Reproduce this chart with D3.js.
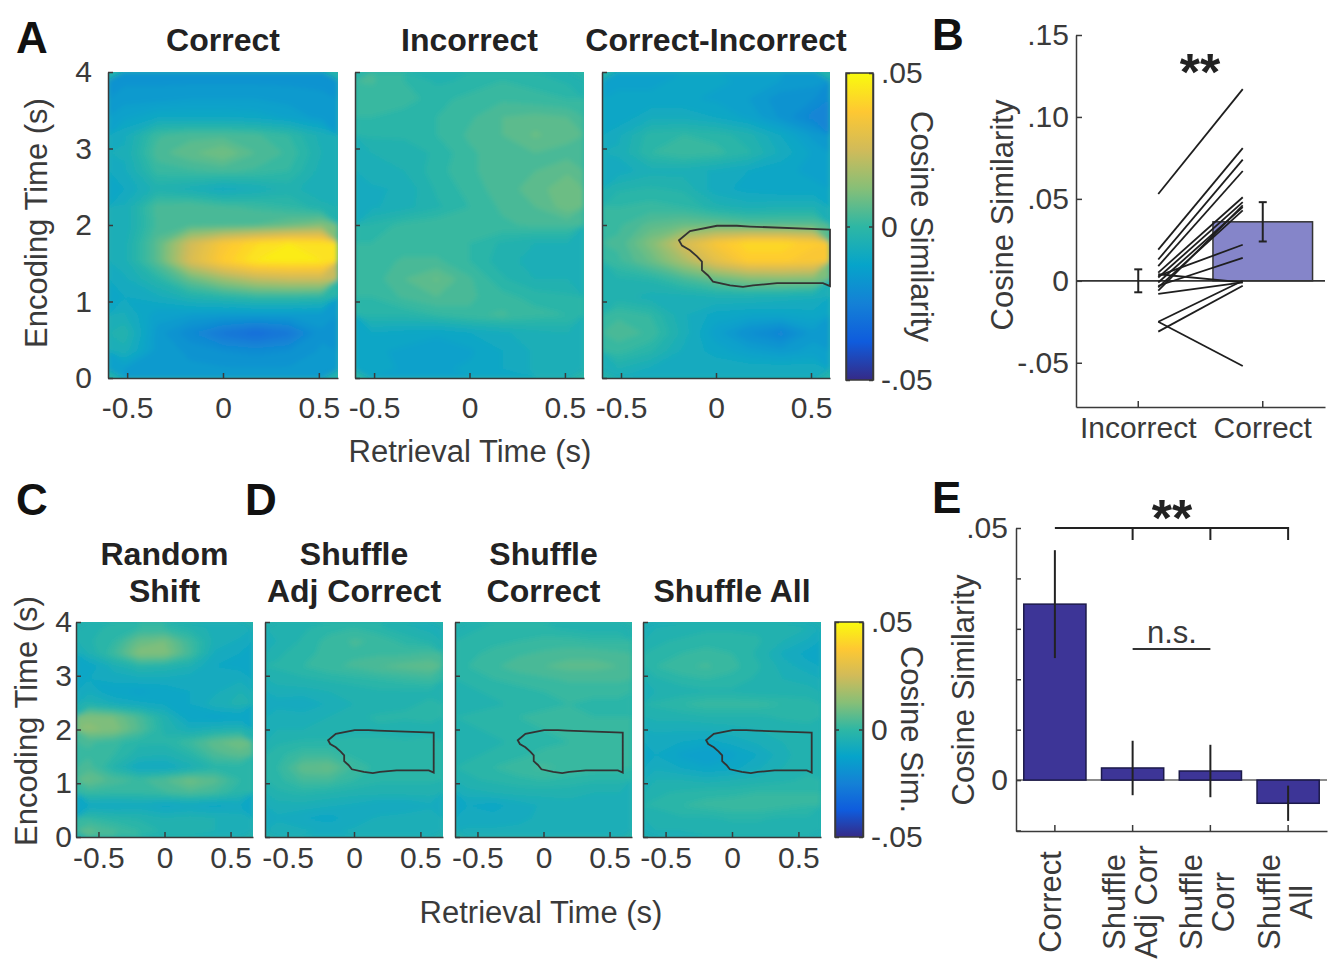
<!DOCTYPE html>
<html>
<head>
<meta charset="utf-8">
<script src="https://cdn.jsdelivr.net/npm/d3@7"></script>
<style>
  body { margin: 0; background: #fff; }
  text { font-family: "Liberation Sans", Arial, sans-serif; }
</style>
</head>
<body>
<svg id="fig" width="1340" height="962"></svg>
<script>
//===============================================//
// Data
// heatmap grids: rows go from encoding 4 s (top) down to 0 s (bottom), 0.25 s apart,
// columns go left->right across retrieval time. values are cosine similarity x 100
const correctGrid = [
  [-1.8,-1.8,-1.8,-1.8,-1.8,-1.8,-1.8],
  [-1.6,-1.6,-1.5,-1.5,-1.5,-1.6,-1.7],
  [-1.3,-1.0,-1.0,-1.0,-1.1,-1.3,-1.6],
  [-0.8, 0.2, 0.4, 0.4, 0.3, 0.0,-0.6],
  [-0.7, 0.4, 0.7, 1.0, 0.5, 0.2,-0.5],
  [-0.8, 0.1, 0.2, 0.3, 0.2, 0.0,-0.6],
  [-1.0,-0.4,-0.6,-0.9,-0.7,-0.4,-0.7],
  [-0.7, 0.4, 0.5, 0.3, 0.2, 0.0,-0.4],
  [-0.7, 0.3, 0.4, 0.4, 0.5, 0.8, 1.2],
  [-0.6, 0.6, 2.5, 3.6, 4.2, 4.5, 4.3],
  [-0.6, 0.6, 2.7, 3.8, 4.5, 4.6, 4.5],
  [-0.8,-0.2, 0.8, 1.6, 2.2, 2.4, 2.4],
  [-1.0,-0.8,-0.4,-0.2, 0.0, 0.0,-0.1],
  [-0.7,-1.4,-1.5,-1.6,-1.6,-1.6,-1.6],
  [-0.3,-1.6,-2.2,-2.8,-3.2,-2.8,-1.8],
  [-0.6,-1.6,-1.8,-2.0,-2.1,-2.0,-1.7],
  [-1.5,-1.7,-1.7,-1.7,-1.7,-1.7,-1.7]
];
const incorrectGrid = [
  [ 0.3, 0.0,-0.3,-0.2, 0.0,-0.1,-0.3],
  [ 0.1, 0.1,-0.1, 0.1, 0.2, 0.1, 0.0],
  [ 0.0,-0.1, 0.0, 0.2, 0.5, 0.6, 0.5],
  [-0.2,-0.2, 0.0, 0.3, 0.5, 0.8, 0.6],
  [-0.5,-0.4,-0.2, 0.2, 0.4, 0.5, 0.4],
  [-0.6,-0.5,-0.1, 0.2, 0.4, 0.5, 0.7],
  [-0.8,-0.7,-0.2, 0.1, 0.4, 0.6, 1.0],
  [-0.8,-0.6,-0.3, 0.0, 0.3, 0.5, 0.9],
  [-0.2, 0.1, 0.2, 0.1, 0.2, 0.3, 0.3],
  [ 0.0, 0.1, 0.1, 0.0,-0.3,-0.5,-0.5],
  [ 0.1, 0.3, 0.3, 0.0,-0.4,-0.6,-0.6],
  [ 0.1, 0.5, 0.8, 0.3,-0.2,-0.5,-0.5],
  [ 0.0, 0.3, 0.5, 0.3, 0.1,-0.1,-0.2],
  [-0.2,-0.2, 0.0, 0.2, 0.3, 0.1, 0.0],
  [-1.0,-1.1,-1.2,-1.0,-0.8,-0.6,-0.5],
  [-1.2,-1.3,-1.4,-1.3,-1.0,-0.7,-0.5],
  [-1.1,-1.3,-1.3,-1.2,-1.0,-0.7,-0.6]
];
const diffGrid = [
  [-1.3,-1.3,-1.2,-1.2,-1.3,-1.5,-1.6],
  [-1.2,-1.2,-1.2,-1.3,-1.5,-1.9,-2.0],
  [-1.2,-0.8,-0.8,-1.0,-1.3,-1.8,-2.4],
  [-0.8,-0.1, 0.0,-0.1,-0.4,-1.0,-1.6],
  [-0.7, 0.0, 0.2, 0.1,-0.2,-0.8,-1.3],
  [-0.9,-0.6,-0.6,-0.8,-1.0,-1.2,-1.3],
  [-0.3,-0.2,-0.3,-0.9,-1.1,-1.2,-1.2],
  [ 0.0, 0.1, 0.0,-0.4,-0.6,-0.5,-0.5],
  [ 0.2, 0.6, 0.8, 0.8, 0.6, 0.6, 0.6],
  [ 0.3, 1.2, 2.6, 3.6, 4.2, 4.2, 3.8],
  [ 0.2, 0.8, 1.8, 3.0, 3.8, 3.8, 3.6],
  [-0.3,-0.2, 0.3, 0.8, 1.2, 1.3, 1.2],
  [-0.4,-0.6,-0.6,-0.5,-0.5,-0.6,-0.7],
  [ 0.2, 0.0,-0.7,-1.1,-1.2,-1.2,-1.1],
  [ 0.4, 0.2,-0.6,-1.4,-2.0,-2.4,-1.6],
  [ 0.1,-0.2,-0.8,-1.1,-1.4,-1.6,-1.4],
  [-0.5,-0.8,-0.8,-0.8,-0.8,-0.8,-0.8]
];
const randomShiftGrid = [
  [-0.3,-0.2, 0.0, 0.0,-0.3,-0.6,-0.6],
  [-0.3, 0.0, 0.8, 1.0, 0.2,-0.6,-0.8],
  [-0.5, 0.2, 1.2, 1.2, 0.3,-0.8,-1.0],
  [-1.2,-0.6,-0.2,-0.3,-0.5,-1.0,-1.1],
  [-1.0,-0.9,-0.8,-0.8,-0.9,-0.9,-0.8],
  [-0.8,-1.2,-1.3,-1.2,-1.0,-0.8,-0.5],
  [-0.4,-0.7,-0.9,-1.0,-1.0,-0.6,-0.4],
  [ 1.2, 1.0, 0.4,-0.4,-1.2,-1.3,-1.2],
  [ 1.3, 1.2, 0.5,-0.3,-0.7,-0.5,-0.4],
  [ 0.3, 0.1,-0.2,-0.2, 0.2, 0.7, 1.0],
  [ 0.2, 0.0,-0.4,-0.5,-0.2, 0.4, 0.6],
  [ 0.4,-0.3,-1.0,-1.0,-0.6,-0.2,-0.2],
  [ 0.8, 0.4, 0.2, 0.5, 0.9, 0.6, 0.0],
  [ 0.1, 0.0, 0.0, 0.2, 0.4, 0.2,-0.2],
  [-1.0,-1.0,-0.9,-1.1,-1.0,-1.1,-1.0],
  [ 0.0,-0.2,-0.3,-0.5,-0.4,-0.5,-0.6],
  [ 0.6, 0.3, 0.0,-0.3,-0.4,-0.5,-0.5]
];
const shuffleAdjGrid = [
  [-0.4,-0.3,-0.1, 0.0,-0.2,-0.4,-0.6],
  [-0.5,-0.2, 0.1, 0.3, 0.2,-0.1,-0.3],
  [-0.3,-0.1, 0.1, 0.2, 0.2, 0.2, 0.3],
  [-0.2, 0.0, 0.2, 0.3, 0.5, 0.6, 0.7],
  [-0.4,-0.3,-0.2,-0.1, 0.0, 0.1, 0.2],
  [-0.6,-0.6,-0.5,-0.4,-0.3,-0.3,-0.3],
  [-0.9,-1.0,-0.7,-0.5,-0.4,-0.3,-0.2],
  [-0.5,-0.6,-0.5,-0.3,-0.2,-0.2,-0.2],
  [-0.5,-0.5,-0.4,-0.3,-0.3,-0.4,-0.3],
  [-0.3,-0.2,-0.2,-0.2,-0.2,-0.2,-0.2],
  [-0.1, 0.2, 0.2,-0.1,-0.1,-0.1,-0.1],
  [ 0.0, 0.7, 0.8, 0.2,-0.1, 0.0, 0.0],
  [-0.1, 0.3, 0.3, 0.0,-0.2,-0.2,-0.2],
  [-0.3,-0.2,-0.3,-0.4,-0.4,-0.4,-0.4],
  [-0.6,-0.6,-0.7,-0.8,-1.0,-1.0,-0.8],
  [-0.8,-1.0,-1.1,-0.9,-0.7,-0.6,-0.6],
  [-0.6,-0.7,-0.8,-0.7,-0.6,-0.5,-0.5]
];
const shuffleCorrGrid = [
  [-0.3,-0.2,-0.2,-0.2,-0.3,-0.4,-0.4],
  [-0.2,-0.1, 0.0, 0.1, 0.1, 0.0, 0.0],
  [-0.1, 0.1, 0.2, 0.3, 0.4, 0.4, 0.3],
  [ 0.0, 0.2, 0.4, 0.5, 0.6, 0.6, 0.5],
  [-0.2, 0.0, 0.1, 0.2, 0.3, 0.3, 0.3],
  [-0.3,-0.2,-0.1, 0.0, 0.1, 0.1, 0.1],
  [-0.4,-0.3,-0.2,-0.1, 0.0,-0.1,-0.1],
  [-0.2,-0.1, 0.0, 0.1, 0.1, 0.0, 0.0],
  [-0.3,-0.2,-0.1, 0.0, 0.1, 0.1, 0.1],
  [-0.4,-0.3,-0.2,-0.1, 0.0, 0.0, 0.0],
  [-0.3,-0.2,-0.1, 0.1, 0.2, 0.2, 0.1],
  [-0.2, 0.0, 0.2, 0.3, 0.2, 0.1, 0.1],
  [-0.3,-0.2,-0.1, 0.0,-0.1,-0.2,-0.2],
  [-0.6,-0.5,-0.4,-0.4,-0.4,-0.5,-0.5],
  [-1.0,-1.1,-0.9,-0.7,-0.6,-0.6,-0.6],
  [-0.9,-0.9,-0.8,-0.7,-0.6,-0.6,-0.6],
  [-0.7,-0.7,-0.7,-0.6,-0.6,-0.5,-0.5]
];
const shuffleAllGrid = [
  [-0.5,-0.4,-0.3,-0.3,-0.3,-0.4,-0.5],
  [-0.3,-0.2,-0.1,-0.1,-0.2,-0.5,-0.8],
  [-0.2, 0.0, 0.1, 0.0,-0.3,-0.8,-1.1],
  [ 0.0, 0.2, 0.3, 0.1,-0.2,-0.6,-0.9],
  [-0.3,-0.1, 0.0,-0.1,-0.3,-0.5,-0.6],
  [-0.5,-0.4,-0.3,-0.3,-0.4,-0.4,-0.4],
  [-0.2, 0.0, 0.1, 0.1, 0.1, 0.0,-0.1],
  [-0.4,-0.4,-0.3,-0.3,-0.3,-0.2,-0.2],
  [-0.7,-0.7,-0.7,-0.6,-0.5,-0.4,-0.3],
  [-0.9,-1.0,-1.1,-0.9,-0.7,-0.5,-0.3],
  [-1.0,-1.3,-1.5,-1.3,-1.0,-0.6,-0.3],
  [-0.8,-1.0,-1.2,-1.1,-0.8,-0.5,-0.3],
  [-0.5,-0.5,-0.6,-0.5,-0.4,-0.3,-0.2],
  [-0.3,-0.2,-0.1,-0.1, 0.0, 0.0, 0.0],
  [-0.2, 0.0, 0.1, 0.2, 0.2, 0.1, 0.0],
  [-0.4,-0.3,-0.3,-0.2,-0.2,-0.3,-0.3],
  [-0.5,-0.5,-0.4,-0.4,-0.4,-0.4,-0.4]
];

// significant cluster outline, [retrieval s, encoding s]
const sigCluster = [
  [0.6, 1.94], [0.179, 1.98], [0.11, 1.99], [0.005, 1.99], [-0.137, 1.92],
  [-0.195, 1.80], [-0.179, 1.73], [-0.137, 1.67], [-0.1, 1.59], [-0.074, 1.52],
  [-0.074, 1.41], [-0.042, 1.34], [-0.016, 1.26], [0.074, 1.21], [0.142, 1.19],
  [0.195, 1.21], [0.321, 1.24], [0.563, 1.24], [0.6, 1.20]
];

// panel B: per-subject values + group bars
const subjIncorrect = [0.053, 0.019, 0.013, 0.009, 0.005, 0.002, -0.001, -0.004, 0.003, -0.003, -0.008, -0.025, -0.031, -0.025, 0.004, -0.006];
const subjCorrect   = [0.117, 0.081, 0.074, 0.067, 0.051, 0.048, 0.045, 0.043, 0.022, 0.014, -0.001, 0.000, -0.003, -0.052, -0.001, 0.046];
const bLabels = ["Incorrect", "Correct"];
const bMeans = [0.0, 0.036];
const bErr = [0.007, 0.012];
const bTicks = [-0.05, 0, 0.05, 0.10, 0.15];
const bTickText = ["-.05", "0", ".05", ".10", ".15"];

// panel E
const eLabels = [["Correct"], ["Shuffle", "Adj Corr"], ["Shuffle", "Corr"], ["Shuffle", "All"]];
const eMeans = [0.0349, 0.0024, 0.0018, -0.0046];
const eErr = [0.0107, 0.0054, 0.0052, 0.0035];
const eTicks = [-0.01, 0, 0.01, 0.02, 0.03, 0.04, 0.05];

const timeTicks = [-0.5, 0, 0.5];
const encTicks = [0, 1, 2, 3, 4];
const cbTicks = [-0.05, 0, 0.05];
const cbTickText = ["-.05", "0", ".05"];

//===============================================//
const svg = d3.select("#fig");
const defs = svg.append("defs");
defs.append("filter").attr("id", "soft")
  .append("feGaussianBlur").attr("stdDeviation", 2.5);

// MATLAB parula
const parula = ["#352A87", "#0F5CDD", "#1481D6", "#06A4CA", "#2EB7A4", "#87BF77", "#D1BB59", "#FEC832", "#F9FB0E"];
const color = d3.scaleLinear()
  .domain(parula.map((c, i) => -0.05 + i * 0.1 / (parula.length - 1)))
  .range(parula).clamp(true);

const ink = "#3a3a3a";
const tickFont = 30;
const labFont = 31;
const titleFont = 32;

function styleAxis(g) {
  g.attr("font-family", "Liberation Sans, Arial, sans-serif").attr("font-size", tickFont);
  g.selectAll("text").attr("fill", ink);
  g.selectAll("line").attr("stroke", ink).attr("stroke-width", 1.5);
  g.select(".domain").attr("stroke", ink).attr("stroke-width", 1.5);
}

function fmtTime(d) { return d === 0 ? "0" : String(d); }

function txt(x, y, s, size, opts = {}) {
  const t = svg.append("text")
    .attr("x", x).attr("y", y)
    .attr("font-size", size)
    .attr("fill", opts.fill || ink)
    .attr("text-anchor", opts.anchor || "middle")
    .text(s);
  if (opts.bold) t.attr("font-weight", "bold");
  if (opts.rot) t.attr("x", 0).attr("y", 0).attr("transform", `translate(${x},${y}) rotate(${opts.rot})`);
  return t;
}

//------------------------ heatmap panels ------------------------//
function heatPanel(o) {
  const x = d3.scaleLinear().domain([-o.xmax, o.xmax]).range([o.left, o.right]);
  const y = d3.scaleLinear().domain([0, 4]).range([o.bottom, o.top]);
  const nr = o.grid.length, nc = o.grid[0].length;
  const flat = o.grid.flat().map(v => v / 100);

  const gx = d3.scaleLinear().domain([0, nc]).range([o.left, o.right]);
  const gy = d3.scaleLinear().domain([0, nr]).range([o.top, o.bottom]);
  const path = d3.geoPath(d3.geoTransform({
    point(px, py) { this.stream.point(gx(px), gy(py)); }
  }));
  const step = 0.0025;
  const bands = d3.contours().size([nc, nr]).thresholds(d3.range(-0.06, 0.06, step))(flat);

  const clipId = "clip" + o.id;
  defs.append("clipPath").attr("id", clipId).append("rect")
    .attr("x", o.left).attr("y", o.top)
    .attr("width", o.right - o.left).attr("height", o.bottom - o.top);

  const g = svg.append("g").attr("clip-path", `url(#${clipId})`);
  g.append("rect")
    .attr("x", o.left).attr("y", o.top)
    .attr("width", o.right - o.left).attr("height", o.bottom - o.top)
    .attr("fill", color(d3.mean(flat)));
  g.append("g").attr("filter", "url(#soft)")
    .selectAll("path").data(bands).join("path")
    .attr("d", path)
    .attr("fill", d => color(d.value + step / 2));

  if (o.cluster) {
    svg.append("path")
      .datum(sigCluster)
      .attr("d", d3.line().x(d => x(d[0])).y(d => y(d[1])).curve(d3.curveLinearClosed))
      .attr("fill", "none").attr("stroke", "#333").attr("stroke-width", 1.8);
  }

  svg.append("g").attr("transform", `translate(0,${o.bottom})`)
    .call(d3.axisBottom(x).tickValues(timeTicks).tickFormat(fmtTime)
      .tickSize(-5).tickSizeOuter(0).tickPadding(o.padX))
    .call(styleAxis);
  svg.append("g").attr("transform", `translate(${o.left},0)`)
    .call(d3.axisLeft(y).tickValues(encTicks).tickFormat(o.yLabels ? d3.format("d") : () => "")
      .tickSize(-5).tickSizeOuter(0).tickPadding(o.padY))
    .call(styleAxis);

  o.title.forEach((s, i) => txt((o.left + o.right) / 2, o.titleY + i * 37, s, titleFont, { bold: true, fill: "#222" }));
}

function colorbar(o) {
  const gid = "grad" + o.id;
  const grad = defs.append("linearGradient").attr("id", gid)
    .attr("x1", 0).attr("y1", 1).attr("x2", 0).attr("y2", 0);
  grad.selectAll("stop").data(parula).join("stop")
    .attr("offset", (d, i) => i / (parula.length - 1))
    .attr("stop-color", d => d);
  svg.append("rect")
    .attr("x", o.left).attr("y", o.top)
    .attr("width", o.right - o.left).attr("height", o.bottom - o.top)
    .attr("fill", `url(#${gid})`);
  const c = d3.scaleLinear().domain([-0.05, 0.05]).range([o.bottom, o.top]);
  svg.append("g").attr("transform", `translate(${o.right},0)`)
    .call(d3.axisRight(c).tickValues(cbTicks).tickFormat((d, i) => cbTickText[i])
      .tickSize(-4).tickSizeOuter(0).tickPadding(8))
    .call(styleAxis);
  svg.append("g").attr("transform", `translate(${o.left},0)`)
    .call(d3.axisLeft(c).tickValues(cbTicks).tickFormat(() => "")
      .tickSize(-4).tickSizeOuter(0))
    .call(styleAxis);
  svg.append("rect")
    .attr("x", o.left).attr("y", o.top)
    .attr("width", o.right - o.left).attr("height", o.bottom - o.top)
    .attr("fill", "none").attr("stroke", ink).attr("stroke-width", 1.5);
  txt(o.labelX, (o.top + o.bottom) / 2, o.label, labFont, { rot: 90 });
}

// A
heatPanel({ id: "a1", grid: correctGrid, left: 108, right: 338, top: 72, bottom: 378, xmax: 0.6,
  title: ["Correct"], titleY: 51, yLabels: true, padX: 19, padY: 16 });
heatPanel({ id: "a2", grid: incorrectGrid, left: 355, right: 584, top: 72, bottom: 378, xmax: 0.6,
  title: ["Incorrect"], titleY: 51, padX: 19, padY: 16 });
heatPanel({ id: "a3", grid: diffGrid, left: 602, right: 830, top: 72, bottom: 378, xmax: 0.6,
  title: ["Correct-Incorrect"], titleY: 51, cluster: true, padX: 19, padY: 16 });
colorbar({ id: "a", left: 846, right: 873, top: 73, bottom: 380, label: "Cosine Similarity", labelX: 911 });
txt(47, 223, "Encoding Time (s)", labFont, { rot: -90 });
txt(470, 462, "Retrieval Time (s)", labFont);

// C + D
heatPanel({ id: "c1", grid: randomShiftGrid, left: 76, right: 253, top: 622, bottom: 837, xmax: 0.67,
  title: ["Random", "Shift"], titleY: 565, yLabels: true, padX: 10, padY: 4 });
heatPanel({ id: "d1", grid: shuffleAdjGrid, left: 265, right: 443, top: 622, bottom: 837, xmax: 0.67,
  title: ["Shuffle", "Adj Correct"], titleY: 565, cluster: true, padX: 10, padY: 4 });
heatPanel({ id: "d2", grid: shuffleCorrGrid, left: 455, right: 632, top: 622, bottom: 837, xmax: 0.67,
  title: ["Shuffle", "Correct"], titleY: 565, cluster: true, padX: 10, padY: 4 });
heatPanel({ id: "d3", grid: shuffleAllGrid, left: 643, right: 821, top: 622, bottom: 837, xmax: 0.67,
  title: ["", "Shuffle All"], titleY: 565, cluster: true, padX: 10, padY: 4 });
colorbar({ id: "d", left: 835, right: 863, top: 622, bottom: 837, label: "Cosine Sim.", labelX: 901 });
txt(37, 721, "Encoding Time (s)", labFont, { rot: -90 });
txt(541, 923, "Retrieval Time (s)", labFont);

//------------------------ panel B ------------------------//
const xB = d3.scaleBand().domain(bLabels).range([1076, 1325]).paddingInner(0.2).paddingOuter(0.1);
const yB = d3.scaleLinear().domain([-0.077, 0.15]).range([407, 35]);
const bw = xB.bandwidth();

svg.append("g").selectAll("rect").data(bLabels).join("rect")
  .attr("x", d => xB(d))
  .attr("y", (d, i) => yB(Math.max(0, bMeans[i])))
  .attr("width", bw)
  .attr("height", (d, i) => Math.abs(yB(bMeans[i]) - yB(0)))
  .attr("fill", "#8585c9").attr("stroke", "#333").attr("stroke-width", 1.5);

svg.append("line")
  .attr("x1", 1076).attr("x2", 1325).attr("y1", yB(0)).attr("y2", yB(0))
  .attr("stroke", "#333").attr("stroke-width", 1.8);

const xInc = xB("Incorrect") + bw / 2 + 20;
const xCor = xB("Correct") + bw / 2 - 20;
svg.append("g").selectAll("line").data(subjIncorrect).join("line")
  .attr("x1", xInc).attr("x2", xCor)
  .attr("y1", d => yB(d))
  .attr("y2", (d, i) => yB(subjCorrect[i]))
  .attr("stroke", "#1e1e1e").attr("stroke-width", 1.8);

bLabels.forEach((lab, i) => {
  const cx = xB(lab) + bw / 2;
  const g = svg.append("g").attr("stroke", "#222").attr("stroke-width", 2);
  g.append("line").attr("x1", cx).attr("x2", cx)
    .attr("y1", yB(bMeans[i] - bErr[i])).attr("y2", yB(bMeans[i] + bErr[i]));
  [bMeans[i] - bErr[i], bMeans[i] + bErr[i]].forEach(v =>
    g.append("line").attr("x1", cx - 4).attr("x2", cx + 4).attr("y1", yB(v)).attr("y2", yB(v)));
});

svg.append("g").attr("transform", "translate(1076,0)")
  .call(d3.axisLeft(yB).tickValues(bTicks).tickFormat((d, i) => bTickText[i])
    .tickSize(-6).tickSizeOuter(0).tickPadding(7))
  .call(styleAxis);
svg.append("g").attr("transform", "translate(0,407)")
  .call(d3.axisBottom(xB).tickSize(-6).tickSizeOuter(0).tickPadding(10))
  .call(styleAxis);
txt(1013, 215, "Cosine Similarity", labFont, { rot: -90 });
txt(1200, 90, "**", 52, { fill: "#222", bold: true });

//------------------------ panel E ------------------------//
const xE = d3.scaleBand().domain(d3.range(eMeans.length)).range([1016, 1327]).paddingInner(0.2).paddingOuter(0.1);
const yE = d3.scaleLinear().domain([-0.0101, 0.05]).range([831, 528]);
const ew = xE.bandwidth();

svg.append("line")
  .attr("x1", 1016).attr("x2", 1327).attr("y1", yE(0)).attr("y2", yE(0))
  .attr("stroke", "#666").attr("stroke-width", 1.5);

svg.append("g").selectAll("rect").data(eMeans).join("rect")
  .attr("x", (d, i) => xE(i))
  .attr("y", d => yE(Math.max(0, d)))
  .attr("width", ew)
  .attr("height", d => Math.abs(yE(d) - yE(0)))
  .attr("fill", "#3d3597").attr("stroke", "#1c1a4a").attr("stroke-width", 1.5);

svg.append("g").selectAll("line").data(eMeans).join("line")
  .attr("x1", (d, i) => xE(i) + ew / 2).attr("x2", (d, i) => xE(i) + ew / 2)
  .attr("y1", (d, i) => yE(d - eErr[i])).attr("y2", (d, i) => yE(d + eErr[i]))
  .attr("stroke", "#222").attr("stroke-width", 2);

svg.append("g").attr("transform", "translate(1016,0)")
  .call(d3.axisLeft(yE).tickValues(eTicks)
    .tickFormat(d => d === 0 ? "0" : (Math.abs(d - 0.05) < 1e-9 ? ".05" : ""))
    .tickSize(-5).tickSizeOuter(0).tickPadding(8))
  .call(styleAxis);
svg.append("g").attr("transform", "translate(0,831)")
  .call(d3.axisBottom(xE).tickFormat(() => "").tickSize(-6).tickSizeOuter(0))
  .call(styleAxis);

eLabels.forEach((lines, i) => {
  const cx = xE(i) + ew / 2;
  if (lines.length === 1) {
    txt(cx + 6, 902, lines[0], labFont, { rot: -90 });
  } else {
    txt(cx - 8, 902, lines[0], labFont, { rot: -90 });
    txt(cx + 24, 902, lines[1], labFont, { rot: -90 });
  }
});

// significance brackets
const cE = i => xE(i) + ew / 2;
svg.append("path")
  .attr("d", `M${cE(0)},${yE(0.05)} H${cE(3)} V${yE(0.05) + 12}`
    + ` M${cE(1)},${yE(0.05)} V${yE(0.05) + 12} M${cE(2)},${yE(0.05)} V${yE(0.05) + 12}`)
  .attr("fill", "none").attr("stroke", "#222").attr("stroke-width", 2);
txt(1172, 536, "**", 52, { fill: "#222", bold: true });
svg.append("line")
  .attr("x1", cE(1)).attr("x2", cE(2)).attr("y1", 649).attr("y2", 649)
  .attr("stroke", "#333").attr("stroke-width", 2);
txt(1172, 643, "n.s.", labFont);
txt(974, 690, "Cosine Similarity", labFont, { rot: -90 });

//------------------------ panel letters ------------------------//
[["A", 16, 53], ["B", 932, 50], ["C", 16, 515], ["D", 245, 515], ["E", 932, 513]].forEach(([s, x, y]) =>
  txt(x, y, s, 44, { bold: true, anchor: "start", fill: "#111" })
    .attr("font-family", "Liberation Sans Narrow, DejaVu Sans Condensed, sans-serif"));
</script>
</body>
</html>
